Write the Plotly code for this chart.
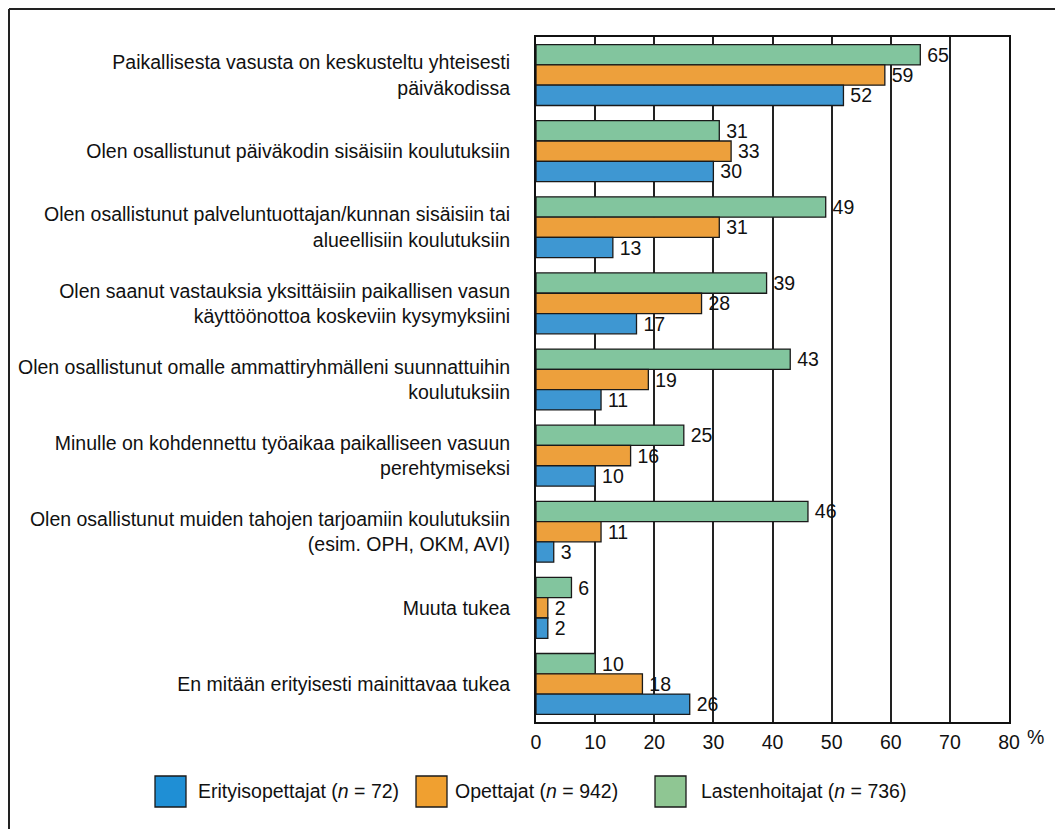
import plotly.graph_objects as go

categories = [
    "Paikallisesta vasusta on keskusteltu yhteisesti<br>päiväkodissa",
    "Olen osallistunut päiväkodin sisäisiin koulutuksiin",
    "Olen osallistunut palveluntuottajan/kunnan sisäisiin tai<br>alueellisiin koulutuksiin",
    "Olen saanut vastauksia yksittäisiin paikallisen vasun<br>käyttöönottoa koskeviin kysymyksiini",
    "Olen osallistunut omalle ammattiryhmälleni suunnattuihin<br>koulutuksiin",
    "Minulle on kohdennettu työaikaa paikalliseen vasuun<br>perehtymiseksi",
    "Olen osallistunut muiden tahojen tarjoamiin koulutuksiin<br>(esim. OPH, OKM, AVI)",
    "Muuta tukea",
    "En mitään erityisesti mainittavaa tukea",
]
lastenhoitajat = [65, 31, 49, 39, 43, 25, 46, 6, 10]
opettajat = [59, 33, 31, 28, 19, 16, 11, 2, 18]
erityisopettajat = [52, 30, 13, 17, 11, 10, 3, 2, 26]
series_names = ["Erityisopettajat (<i>n</i> = 72)", "Opettajat (<i>n</i> = 942)", "Lastenhoitajat (<i>n</i> = 736)"]
x_ticks = [0, 10, 20, 30, 40, 50, 60, 70, 80]

FONT = "Liberation Sans, Arial, sans-serif"
FS = 19.5
bar_colors = {"blue": "#3E97D2", "orange": "#EDA03C", "green": "#82C59E"}
legend_colors = ["#1F8FD5", "#F0A030", "#8FC693"]

# page is rendered with an 8px body margin; work in page pixels, convert
OFF = 8
W, H = 1063 - OFF, 829 - OFF
PL, PR, PT, PB = 536, 1009, 37, 722  # plot area in page pixels
L, T = PL - OFF, PT - OFF
R = W - (PR - OFF)
B = H - (PB - OFF)
PW, PH = PR - PL, PB - PT


def px(xp):
    return (xp - PL) / PW


def py(yp):
    return (PB - yp) / PH


fig = go.Figure()
for vals, col in [(lastenhoitajat, bar_colors["green"]),
                  (opettajat, bar_colors["orange"]),
                  (erityisopettajat, bar_colors["blue"])]:
    fig.add_trace(go.Bar(
        y=categories, x=vals, orientation="h",
        marker=dict(color=col, line=dict(color="#1a1a1a", width=1.3)),
        text=["\u2009" + str(v) for v in vals], textposition="outside",
        textfont=dict(family=FONT, size=FS, color="#111"),
        constraintext="none", cliponaxis=False, showlegend=False,
        hoverinfo="x+y",
    ))

shapes = [
    # outer frame (top and left edges visible)
    dict(type="line", xref="paper", yref="paper", x0=px(OFF + 1), x1=px(1063), y0=py(OFF + 1), y1=py(OFF + 1),
         line=dict(color="#222", width=2)),
    dict(type="line", xref="paper", yref="paper", x0=px(OFF + 1), x1=px(OFF + 1), y0=py(OFF + 1), y1=py(829),
         line=dict(color="#222", width=2)),
]
annotations = []
legend_pos = [(155, 196), (416, 453), (655, 699)]
for (sx, tx), name, col in zip(legend_pos, series_names, legend_colors):
    shapes.append(dict(type="rect", xref="paper", yref="paper",
                       x0=px(sx), x1=px(sx + 31), y0=py(807), y1=py(776),
                       fillcolor=col, line=dict(color="#1a1a1a", width=1.3)))
    annotations.append(dict(xref="paper", yref="paper", x=px(tx), y=py(791),
                            text=name, showarrow=False, xanchor="left", yanchor="middle",
                            font=dict(family=FONT, size=FS, color="#111")))
annotations.append(dict(xref="paper", yref="paper", x=px(1025), y=py(737),
                        text="%", showarrow=False, xanchor="left", yanchor="middle",
                        font=dict(family=FONT, size=FS, color="#111")))

fig.update_layout(
    width=W, height=H,
    margin=dict(l=L, r=R, t=T, b=B, autoexpand=False),
    paper_bgcolor="white", plot_bgcolor="white",
    barmode="group", bargap=0.2, bargroupgap=0.0,
    font=dict(family=FONT, size=FS, color="#111"),
    shapes=shapes, annotations=annotations,
    showlegend=False,
)
fig.update_xaxes(
    range=[0, 80], tickvals=x_ticks, ticktext=[str(t) for t in x_ticks],
    showgrid=True, gridcolor="#222", gridwidth=1.5,
    showline=True, linecolor="#111", linewidth=2, mirror=True,
    zeroline=False, ticks="", tickfont=dict(family=FONT, size=FS, color="#111"),
    ticklabelstandoff=2,
)
fig.update_yaxes(
    autorange="reversed", showgrid=False,
    showline=True, linecolor="#111", linewidth=2, mirror=True,
    ticks="", tickfont=dict(family=FONT, size=FS, color="#111"),
    ticklabelstandoff=20,
)

fig.write_html("out.html")
